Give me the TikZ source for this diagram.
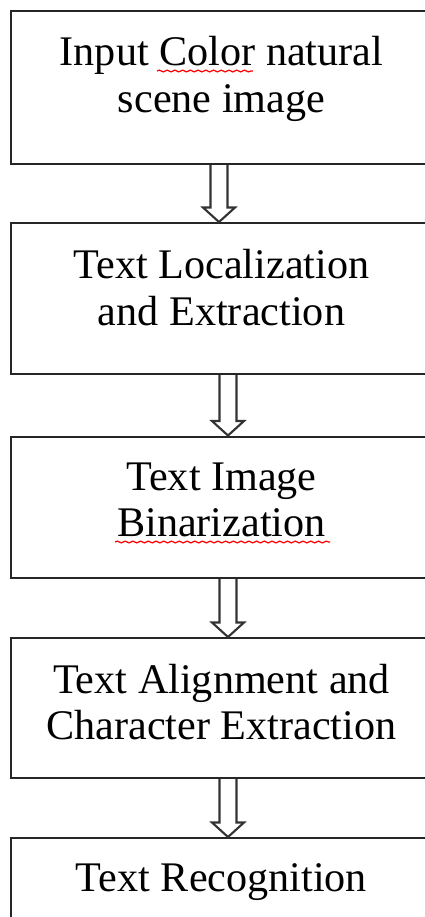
\documentclass[tikz,border=0pt]{standalone}
\usepackage{fontspec}
\setmainfont{Liberation Serif}
\usetikzlibrary{calc,positioning,decorations.pathmorphing}

\begin{document}
\begin{tikzpicture}[every node/.style={font=\fontsize{12}{13.1}\selectfont,text=black},stepbox/.style={draw=black!85,line width=0.6pt,fill=white,minimum width=4.19cm,anchor=north,inner sep=0pt},steptext/.style={align=center,anchor=north,inner sep=0pt},hollow/.style={draw=black!80,line width=0.6pt,line join=miter},squiggle/.style={draw=red,line width=0.35pt,decorate,decoration={snake,amplitude=0.25pt,segment length=2.2pt}}]
\useasboundingbox[fill=white] (0,0) rectangle (4.25,-9.17);

% boxes (right side runs off the page)
\node[stepbox,minimum height=1.53cm] (b1) at (2.205,-0.10) {};
\node[stepbox,minimum height=1.51cm] (b2) at (2.205,-2.22) {};
\node[stepbox,minimum height=1.415cm] (b3) at (2.205,-4.355) {};
\node[stepbox,minimum height=1.40cm] (b4) at (2.205,-6.37) {};
\node[stepbox,minimum height=1.50cm] (b5) at (2.205,-8.37) {};

% labels, set near the top of each box
\node[steptext] (t1) at ($(b1.north)+(0.01,-0.26)$) {Input Color natural\\scene image};
\node[steptext] (t2) at ($(b2.north)+(0.01,-0.27)$) {Text Localization\\and Extraction};
\node[steptext] (t3) at ($(b3.north)+(0.01,-0.265)$) {Text Image\\Binarization};
\node[steptext] (t4) at ($(b4.north)+(0.01,-0.265)$) {Text Alignment and\\Character Extraction};
\node[steptext] (t5) at ($(b5.north)+(0.01,-0.255)$) {Text Recognition};

% spell-check marks
\draw[squiggle] ($(t1.north)+(-0.645,-0.35)$) -- ($(t1.north)+(0.315,-0.35)$);
\draw[squiggle] ($(t3.north)+(-1.065,-0.80)$) -- ($(t3.north)+(1.085,-0.80)$);

% hollow arrows between the boxes
\foreach \a/\b/\x in {b1/b2/2.19,b2/b3/2.28,b3/b4/2.28,b4/b5/2.28}{
  \coordinate (ax) at (\x,0);
  \draw[hollow] ($(ax |- \a.south)+(-0.085,0)$) -- ($(ax |- \b.north)+(-0.085,0.145)$) -- ($(ax |- \b.north)+(-0.16,0.145)$) -- (ax |- \b.north) -- ($(ax |- \b.north)+(0.16,0.145)$) -- ($(ax |- \b.north)+(0.085,0.145)$) -- ($(ax |- \a.south)+(0.085,0)$);
}

\end{tikzpicture}
\end{document}
